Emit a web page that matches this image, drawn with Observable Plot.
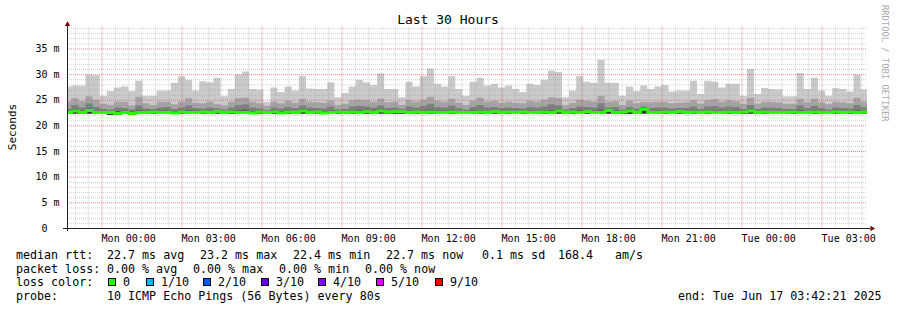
<!DOCTYPE html>
<html><head><meta charset="utf-8">
<script src="https://cdn.jsdelivr.net/npm/d3@7"></script>
<script src="https://cdn.jsdelivr.net/npm/@observablehq/plot@0.6"></script>
<style>
html,body{margin:0;padding:0;background:#fff;}
#chart{position:relative;width:897px;height:310px;overflow:hidden;background:#fff;}
#chart svg{position:absolute;left:0;top:0;}
</style></head><body><div id="chart"></div>
<script>
// ---- data (values in milliseconds, one entry per 16-minute bin) ----
const maxRtt = [
27.6,27.8,27.8,29.9,29.8,25.8,26.7,27.4,27.6,26.7,
28.7,25.8,25.8,26.8,26.8,28.3,29.6,28.9,26.8,28.6,
28.4,29.3,25.7,27.1,29.9,30.5,27.1,27.0,24.6,27.4,
26.5,27.6,26.8,29.6,27.2,27.1,27.1,28.4,25.5,26.3,
27.6,28.9,28.4,27.9,30.1,27.1,27.1,25.5,28.5,27.6,
29.6,31.1,28.1,27.6,29.6,27.1,25.8,28.5,29.3,27.8,
28.1,27.4,27.8,27.1,26.5,28.1,27.9,28.9,30.7,30.4,
25.5,26.8,29.6,28.5,28.3,32.8,28.3,28.3,25.8,27.6,
26.7,27.8,27.1,27.6,27.9,26.6,26.8,26.8,28.7,26.1,
28.7,28.5,27.4,28.1,28.1,25.8,31.0,26.1,27.3,27.1,
27.0,25.7,25.7,30.2,27.1,29.3,26.8,25.8,27.3,27.1,
26.6,29.9,27.0];
const ping9 = [
24.6,25.3,24.7,25.7,25.0,24.2,24.0,24.6,24.6,23.9,
25.6,24.3,24.0,24.6,24.6,24.1,24.6,25.3,24.4,24.3,
24.6,24.1,23.9,24.6,25.3,25.4,24.6,24.3,23.8,24.6,
24.3,24.8,24.4,25.2,24.6,24.5,24.4,24.8,24.0,24.2,
24.9,25.0,24.9,24.6,25.2,24.5,24.6,24.0,24.9,24.6,
25.0,25.6,24.8,24.6,25.2,24.4,24.0,24.8,25.4,24.6,
24.8,24.4,24.6,24.4,24.3,24.8,24.6,25.0,25.5,25.3,
23.9,24.4,25.0,24.8,24.6,25.8,24.6,24.7,24.0,24.8,
24.3,24.6,24.5,24.6,24.6,24.3,24.4,24.5,24.9,24.2,
24.9,25.1,24.6,24.9,24.7,24.2,25.4,24.2,24.6,24.6,
24.5,24.2,24.2,25.2,24.5,25.2,24.5,24.1,24.6,24.5,
24.3,25.4,24.6];
const ping8 = [
23.3,24.0,23.5,24.3,23.6,23.2,23.1,23.5,23.4,23.1,
23.9,23.3,23.2,23.5,23.6,23.2,23.5,23.9,23.4,23.3,
23.5,23.3,23.1,23.5,24.0,24.1,23.5,23.3,23.0,23.5,
23.3,23.6,23.4,23.9,23.5,23.4,23.3,23.7,23.1,23.2,
23.7,23.8,23.7,23.5,23.9,23.4,23.5,23.2,23.7,23.5,
23.8,24.2,23.6,23.5,23.9,23.4,23.1,23.6,24.0,23.5,
23.6,23.4,23.5,23.4,23.3,23.6,23.5,23.7,24.1,23.9,
23.1,23.4,23.7,23.6,23.5,24.3,23.5,23.6,23.1,23.6,
23.3,23.7,23.4,23.5,23.5,23.3,23.4,23.4,23.7,23.2,
23.7,23.8,23.5,23.7,23.6,23.2,24.0,23.2,23.5,23.5,
23.4,23.2,23.2,23.9,23.4,23.8,23.4,23.1,23.5,23.4,
23.3,24.0,23.5];
const ping7 = [
22.9,23.2,22.9,23.3,22.9,22.8,22.8,22.8,22.9,22.7,
23.0,22.9,22.9,22.9,22.9,22.8,23.0,23.0,22.9,22.9,
22.9,23.0,22.8,22.9,23.0,23.1,22.8,22.9,22.8,22.9,
22.8,23.0,22.8,23.2,22.9,22.9,22.8,22.9,22.9,22.8,
23.0,23.0,23.1,22.9,23.2,22.9,23.0,23.0,22.9,22.9,
22.9,23.1,22.9,22.9,23.0,22.8,22.8,22.9,23.0,22.8,
23.0,22.8,22.9,22.8,22.9,22.9,22.8,23.0,23.0,23.1,
22.8,22.9,23.0,23.0,22.9,23.1,23.2,22.9,22.9,23.1,
22.8,23.4,22.8,22.9,22.9,22.8,23.0,22.8,23.0,22.8,
23.0,22.9,22.8,23.0,22.9,22.9,23.1,22.8,22.9,22.8,
22.8,22.8,22.9,23.0,22.8,23.0,22.8,22.8,22.9,22.8,
22.9,23.0,22.9];
const medianRtt = [
22.6,22.9,22.6,23.0,22.6,22.6,22.6,22.4,22.6,22.4,
22.6,22.6,22.7,22.6,22.6,22.5,22.7,22.6,22.6,22.7,
22.6,22.8,22.6,22.7,22.6,22.6,22.5,22.7,22.6,22.7,
22.5,22.7,22.6,22.9,22.6,22.7,22.5,22.6,22.7,22.6,
22.7,22.6,22.8,22.6,22.9,22.7,22.8,22.8,22.6,22.7,
22.6,22.7,22.6,22.6,22.7,22.6,22.6,22.6,22.7,22.6,
22.8,22.6,22.7,22.6,22.7,22.6,22.6,22.7,22.6,22.9,
22.6,22.7,22.6,22.8,22.6,22.6,23.0,22.6,22.7,22.9,
22.6,23.2,22.6,22.6,22.7,22.6,22.8,22.6,22.7,22.6,
22.7,22.6,22.6,22.7,22.6,22.7,22.9,22.6,22.7,22.6,
22.6,22.6,22.7,22.6,22.6,22.7,22.6,22.6,22.7,22.6,
22.7,22.6,22.7];
const minRtt = [
22.2,22.3,22.2,22.3,22.2,22.2,22.1,22.1,22.2,22.1,
22.2,22.2,22.3,22.2,22.2,22.2,22.3,22.2,22.2,22.3,
22.2,22.3,22.2,22.2,22.2,22.2,22.2,22.3,22.2,22.2,
22.2,22.3,22.2,22.3,22.2,22.3,22.2,22.2,22.3,22.2,
22.3,22.2,22.3,22.2,22.3,22.3,22.3,22.3,22.2,22.3,
22.2,22.3,22.2,22.2,22.3,22.2,22.2,22.2,22.3,22.2,
22.3,22.2,22.3,22.2,22.3,22.2,22.2,22.3,22.2,22.3,
22.2,22.3,22.2,22.3,22.2,22.2,22.3,22.2,22.3,22.2,
22.2,22.3,22.2,22.2,22.3,22.2,22.3,22.2,22.3,22.2,
22.3,22.2,22.2,22.3,22.2,22.3,22.3,22.2,22.3,22.2,
22.2,22.2,22.3,22.2,22.2,22.3,22.2,22.2,22.3,22.2,
22.3,22.2,22.3];

const firstBinStart = "2025-06-15T21:36:00Z";
const binMinutes = 16;
const windowStart = new Date("2025-06-15T21:42:21Z");
const windowEnd = new Date("2025-06-17T03:42:21Z");

const xTickTimes = ["2025-06-16T00:00:00Z","2025-06-16T03:00:00Z","2025-06-16T06:00:00Z","2025-06-16T09:00:00Z","2025-06-16T12:00:00Z","2025-06-16T15:00:00Z","2025-06-16T18:00:00Z","2025-06-16T21:00:00Z","2025-06-17T00:00:00Z","2025-06-17T03:00:00Z"];
const xTickLabels = ["Mon 00:00","Mon 03:00","Mon 06:00","Mon 09:00","Mon 12:00","Mon 15:00","Mon 18:00","Mon 21:00","Tue 00:00","Tue 03:00"];
const yTickValues = [0,5,10,15,20,25,30,35];
const yTickLabels = ["0\u00a0\u00a0","5 m","10 m","15 m","20 m","25 m","30 m","35 m"];

const titleText = "Last 30 Hours";
const yLabelText = "Seconds";
const watermark = "RRDTOOL / TOBI OETIKER";
const rttStats = ["22.7 ms avg","23.2 ms max","22.4 ms min","22.7 ms now","0.1 ms sd","168.4","am/s"];
const lossStats = ["0.00 % avg","0.00 % max","0.00 % min","0.00 % now"];
const lossLabels = ["0","1/10","2/10","3/10","4/10","5/10","9/10"];
const lossColors = ["#26ff00","#00b8ff","#0059ff","#5e00ff","#7e00ff","#dd00ff","#ff0000"];
const probeText = "10 ICMP Echo Pings (56 Bytes) every 80s";
const endText = "end: Tue Jun 17 03:42:21 2025";

// ---- build table ----
const t0 = new Date(firstBinStart).getTime();
const rows = maxRtt.map((_, i) => ({
  t: new Date(t0 + i * binMinutes * 60000),
  lo: minRtt[i], p7: ping7[i], p8: ping8[i], p9: ping9[i], hi: maxRtt[i], med: medianRtt[i]
}));
rows.push({...rows[rows.length - 1], t: new Date(t0 + rows.length * binMinutes * 60000)});

const smoke = [
  {key: "hi", color: "#cacaca"},
  {key: "p9", color: "#a4a4a4"},
  {key: "p8", color: "#7e7e7e"},
  {key: "p7", color: "#585858"},
  {key: "med", color: "#323232"}
];

const yMinor = d3.range(1, 40).filter(v => v % 5 !== 0);
const yMajor = [5, 10, 15, 20, 25, 30, 35];
const gridStart = new Date("2025-06-15T22:00:00Z");
const halfHours = d3.utcMinute.every(30).range(gridStart, windowEnd);
const isMajor = d => d.getUTCMinutes() === 0 && (d.getUTCHours() % 3) === 2;
const xMajor = halfHours.filter(isMajor);
const xMinor = halfHours.filter(d => !isMajor(d));

const xLabelMap = new Map(xTickTimes.map((s, i) => [new Date(s).getTime(), xTickLabels[i]]));
const yLabelMap = new Map(yTickValues.map((v, i) => [v, yTickLabels[i]]));

const chart = Plot.plot({
  width: 897, height: 310,
  marginLeft: 67, marginRight: 30, marginTop: 26.4, marginBottom: 82,
  style: {fontFamily: "'DejaVu Sans Mono', monospace", fontSize: "10px", background: "transparent", color: "#000"},
  x: {type: "utc", domain: [windowStart, windowEnd]},
  y: {domain: [0, 39.3]},
  marks: [
    ...smoke.map(L => Plot.areaY(rows, {x: "t", y1: "lo", y2: L.key, fill: L.color, curve: "step-after", clip: true})),
    Plot.lineY(rows, {x: "t", y: "med", stroke: lossColors[0], strokeWidth: 3, curve: "step-after", clip: true}),
    Plot.ruleY(yMinor, {stroke: "#8f8f8f", strokeOpacity: 0.4, strokeDasharray: "1,1"}),
    Plot.ruleX(xMinor, {stroke: "#8f8f8f", strokeOpacity: 0.4, strokeDasharray: "1,1"}),
    Plot.ruleY(yMajor, {stroke: "#de5050", strokeOpacity: 0.65, strokeDasharray: "1,1"}),
    Plot.ruleX(xMajor, {stroke: "#de5050", strokeOpacity: 0.65, strokeDasharray: "1,1"}),
    Plot.ruleY([0], {stroke: "#202020", insetLeft: -4, insetRight: -3}),
    Plot.ruleX([windowStart], {stroke: "#202020", insetTop: -2, insetBottom: -3}),
    Plot.dot([0], {frameAnchor: "top-left", symbol: "triangle", r: 2, fill: "#7f0000", stroke: "none", dy: -2.5}),
    Plot.dot([0], {frameAnchor: "bottom-right", symbol: "triangle", r: 2, rotate: 90, fill: "#7f0000", stroke: "none", dx: 4.5}),
    Plot.axisX(xTickTimes.map(s => new Date(s)), {tickSize: 0, tickPadding: 6, tickFormat: d => xLabelMap.get(+d), label: null}),
    Plot.axisY(yTickValues, {tickSize: 0, tickPadding: 8, tickFormat: d => yLabelMap.get(d), label: null})
  ]
});

const root = document.getElementById("chart");
root.appendChild(chart);

// ---- overlay: title, axis label, legend ----
const ov = d3.create("svg").attr("width", 897).attr("height", 310)
  .attr("font-family", "'DejaVu Sans Mono', monospace").style("pointer-events", "none");
ov.append("text").attr("x", 448).attr("y", 24).attr("text-anchor", "middle").attr("font-size", 13).text(titleText);
ov.append("text").attr("transform", "translate(15.5,127) rotate(-90)").attr("text-anchor", "middle").attr("font-size", 11).text(yLabelText);
ov.append("text").attr("transform", "translate(882,5) rotate(90)").attr("font-size", 8.8).attr("fill", "#aaa").text(watermark);

const leg = ov.append("g").attr("font-size", 11.66).attr("fill", "#000");
const put = (x, y, s) => leg.append("text").attr("x", x).attr("y", y).style("white-space", "pre").text(s);
put(16, 258.5, "median rtt:");
[107, 200, 293, 386, 482, 558, 615].forEach((x, i) => put(x, 258.5, rttStats[i]));
put(16, 272.5, "packet loss:");
[107, 193, 279, 365].forEach((x, i) => put(x, 272.5, lossStats[i]));
put(16, 286, "loss color:");
[108, 146, 203, 261, 318, 376, 435].forEach((x, i) => {
  leg.append("rect").attr("x", x + 0.5).attr("y", 278.5).attr("width", 7).attr("height", 7)
    .attr("fill", lossColors[i]).attr("stroke", "#000").attr("stroke-width", 1);
  put(x + 15, 286, lossLabels[i]);
});
put(16, 299.5, "probe:");
put(107, 299.5, probeText);
put(678, 299.5, endText);
root.appendChild(ov.node());
</script></body></html>
